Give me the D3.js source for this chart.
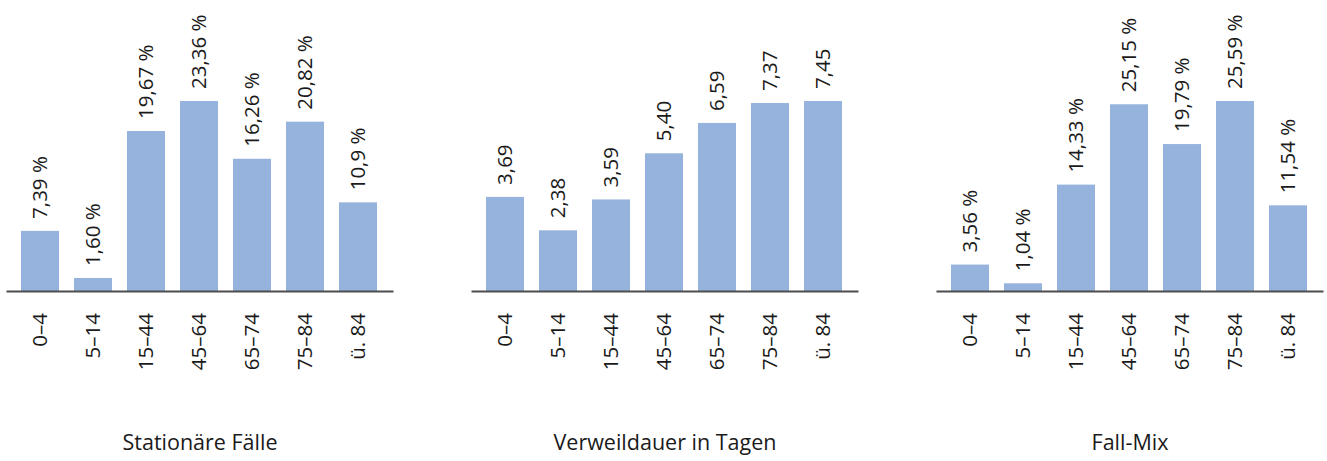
<!DOCTYPE html>
<html>
<head>
<meta charset="utf-8">
<script src="https://cdn.jsdelivr.net/npm/d3@7"></script>
<style>
  body { margin: 0; background: #fff; }
  text { font-family: "Open Sans", sans-serif; fill: #1a1a1a; }
</style>
</head>
<body>
<svg width="1327" height="461"></svg>
<script>
// age groups on the x axis
var ageGroups = ["0–4", "5–14", "15–44", "45–64", "65–74", "75–84", "ü. 84"];

// three panels: values and the printed labels
var faelle = [7.39, 1.60, 19.67, 23.36, 16.26, 20.82, 10.9];
var faelleLabels = ["7,39 %", "1,60 %", "19,67 %", "23,36 %", "16,26 %", "20,82 %", "10,9 %"];

var verweildauer = [3.69, 2.38, 3.59, 5.40, 6.59, 7.37, 7.45];
var verweildauerLabels = ["3,69", "2,38", "3,59", "5,40", "6,59", "7,37", "7,45"];

var fallMix = [3.56, 1.04, 14.33, 25.15, 19.79, 25.59, 11.54];
var fallMixLabels = ["3,56 %", "1,04 %", "14,33 %", "25,15 %", "19,79 %", "25,59 %", "11,54 %"];

var titles = ["Stationäre Fälle", "Verweildauer in Tagen", "Fall-Mix"];

var panels = [
  {title: titles[0], values: faelle, labels: faelleLabels},
  {title: titles[1], values: verweildauer, labels: verweildauerLabels},
  {title: titles[2], values: fallMix, labels: fallMixLabels}
];

var svg = d3.select("svg"),
    baseY = 291,
    barTop = 101,
    bandWidth = 371,
    panelStep = 465;

var color = "#95b3dd";

panels.forEach(function(p, i) {
  var g = svg.append("g")
      .attr("transform", "translate(" + (13.5 + i * panelStep) + ",0)");

  var x = d3.scaleBand()
      .domain(ageGroups)
      .range([0, bandWidth])
      .paddingInner(0.283)
      .paddingOuter(0.1415);

  var y = d3.scaleLinear()
      .domain([0, d3.max(p.values)])
      .range([baseY, barTop]);

  var data = p.values.map(function(v, j) {
    return {key: ageGroups[j], value: v, label: p.labels[j]};
  });

  // bars
  g.selectAll("rect")
    .data(data)
    .enter().append("rect")
      .attr("x", function(d) { return x(d.key); })
      .attr("y", function(d) { return y(d.value); })
      .attr("width", x.bandwidth())
      .attr("height", function(d) { return baseY - y(d.value); })
      .attr("fill", color);

  // value labels, rotated
  g.selectAll(".val")
    .data(data)
    .enter().append("text")
      .attr("class", "val")
      .attr("transform", function(d) {
        return "translate(" + (x(d.key) + x.bandwidth() / 2) + "," + (y(d.value) - 12) + ") rotate(-90)";
      })
      .attr("dy", "0.36em")
      .attr("font-size", 20.5)
      .attr("text-anchor", "start")
      .text(function(d) { return d.label; });

  // baseline
  g.append("line")
      .attr("x1", -7)
      .attr("x2", bandWidth + 9)
      .attr("y1", baseY + 0.5)
      .attr("y2", baseY + 0.5)
      .attr("stroke", "#4d4d4d")
      .attr("stroke-width", 2);

  // category axis
  var axis = g.append("g")
      .attr("transform", "translate(0," + baseY + ")")
      .call(d3.axisBottom(x).tickSize(0));
  axis.select(".domain").remove();
  axis.selectAll("text")
      .attr("transform", "rotate(-90)")
      .attr("x", -22)
      .attr("y", 0)
      .attr("dy", "0.36em")
      .attr("text-anchor", "end")
      .attr("font-size", 20.5)
      .attr("font-family", "Open Sans, sans-serif")
      .attr("fill", "#1a1a1a");

  // panel title
  g.append("text")
      .attr("x", bandWidth / 2 + 1)
      .attr("y", 450)
      .attr("text-anchor", "middle")
      .attr("font-size", 21.5)
      .text(p.title);
});
</script>
</body>
</html>
